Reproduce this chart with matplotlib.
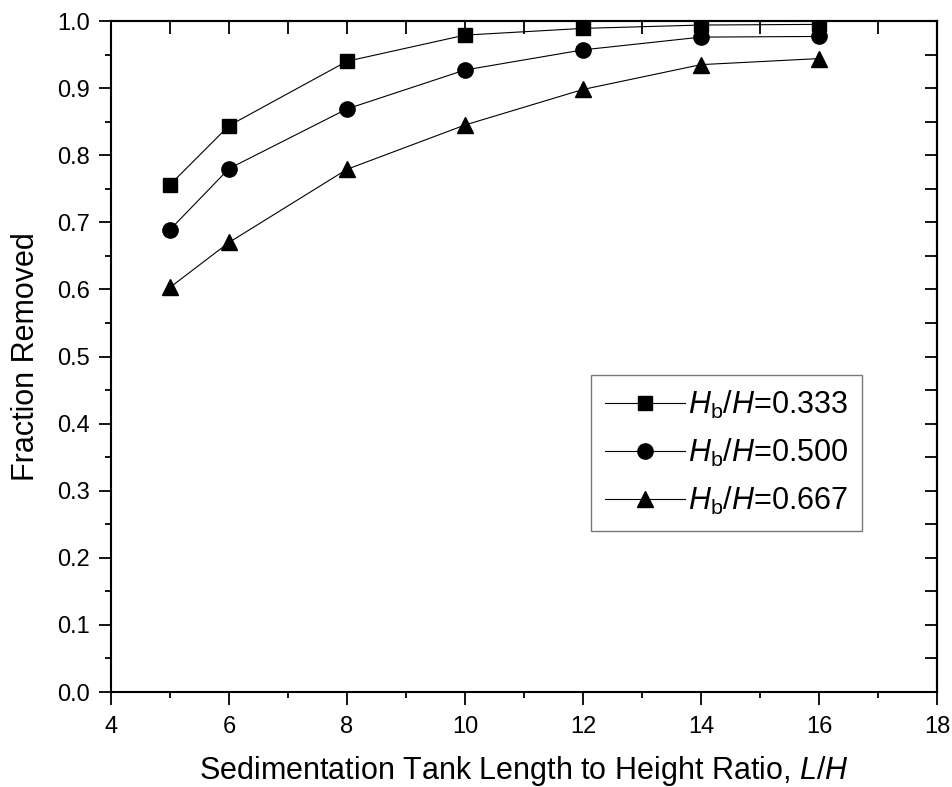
import matplotlib
matplotlib.use("Agg")
import matplotlib.pyplot as plt

# fraction removed vs tank length/height ratio, for three baffle heights
ratio = [5, 6, 8, 10, 12, 14, 16]
frac_333 = [0.756, 0.844, 0.940, 0.979, 0.989, 0.994, 0.995]
frac_500 = [0.689, 0.780, 0.869, 0.927, 0.957, 0.976, 0.977]
frac_667 = [0.603, 0.670, 0.779, 0.845, 0.898, 0.935, 0.944]
labels = ["0.333", "0.500", "0.667"]

plt.rcParams['font.family'] = ['Liberation Sans', 'DejaVu Sans']
plt.rcParams['mathtext.fontset'] = 'custom'
plt.rcParams['mathtext.rm'] = 'Liberation Sans'
plt.rcParams['mathtext.it'] = 'Liberation Sans:italic'


def make_plot():
    '''
    draws the three series with Origin-like axes and saves out.png
    '''
    fig = plt.figure(figsize=(9.52, 7.87), dpi=100)
    ax = fig.add_axes([0.1166, 0.1207, 0.8676, 0.8526])

    series = [(frac_333, 's', 10), (frac_500, 'o', 11), (frac_667, '^', 12)]
    for (vals, mk, ms), lab in zip(series, labels):
        ax.plot(ratio, vals, color='black', linewidth=0.8, marker=mk,
                markersize=ms, markerfacecolor='black', markeredgecolor='black',
                label=r'$\mathit{H}_{\mathrm{b}}\mathit{/H}$=' + lab)

    ax.set_xlim(4, 18)
    ax.set_ylim(0.0, 1.0)
    ax.set_xticks(range(4, 19, 2))
    ax.set_xticks(range(5, 18, 2), minor=True)
    ax.set_yticks([i / 10 for i in range(11)])
    ax.set_yticks([i / 20 for i in range(1, 20, 2)], minor=True)
    ax.set_yticklabels(["%.1f" % (i / 10) for i in range(11)])

    for s in ax.spines.values():
        s.set_linewidth(1.5)
    ax.tick_params(axis='both', which='major', direction='out', length=9,
                   width=1.3, labelsize=17, pad=6, top=False, right=False)
    ax.tick_params(axis='x', which='major', pad=8)
    ax.tick_params(axis='both', which='minor', direction='out', length=4,
                   width=1.3, top=False, right=False)

    # inward ticks on top and right, no labels
    ax_t = ax.secondary_xaxis('top')
    ax_t.set_xticks(range(4, 19, 2))
    ax_t.set_xticks(range(5, 18, 2), minor=True)
    ax_t.tick_params(which='both', direction='in', length=9, width=1.3, labeltop=False)
    ax_t.spines['top'].set_linewidth(1.5)
    ax_r = ax.secondary_yaxis('right')
    ax_r.set_yticks([i / 10 for i in range(11)])
    ax_r.set_yticks([i / 20 for i in range(1, 20, 2)], minor=True)
    ax_r.tick_params(which='both', direction='in', length=9, width=1.3, labelright=False)
    ax_r.spines['right'].set_linewidth(1.5)

    ax.set_xlabel(r'Sedimentation Tank Length to Height Ratio, $\mathit{L/H}$',
                  fontsize=22, labelpad=12)
    ax.set_ylabel('Fraction Removed', fontsize=22, labelpad=12)

    leg = ax.legend(loc='upper right', bbox_to_anchor=(0.909, 0.4724),
                    fontsize=22, frameon=True, fancybox=False, handlelength=2.6,
                    handletextpad=0.1, borderpad=0.45, labelspacing=0.52,
                    borderaxespad=0.0)
    leg.get_frame().set_edgecolor('#555555')
    leg.get_frame().set_linewidth(1.0)

    fig.savefig('out.png', dpi=100)


if __name__ == '__main__':
    make_plot()
